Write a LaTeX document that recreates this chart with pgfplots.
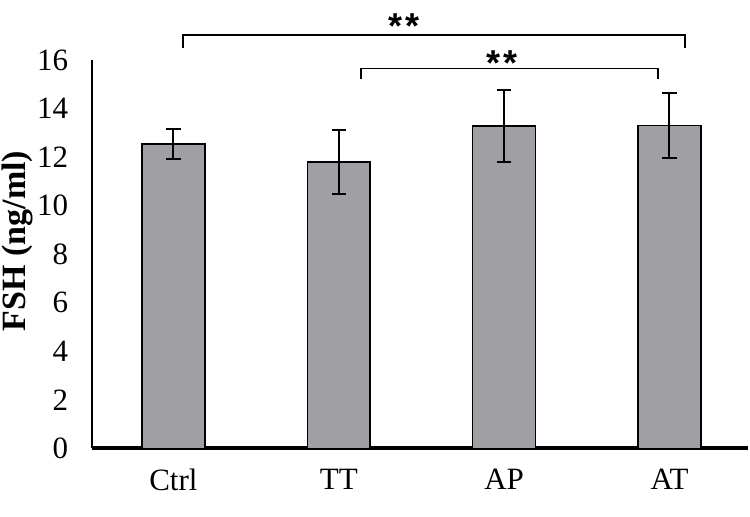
\documentclass[border=0pt]{standalone}
\usepackage{fontspec}
\setmainfont{Liberation Serif}
\setsansfont{Liberation Sans}
\usepackage{pgfplots}
\pgfplotsset{compat=1.18}
\definecolor{barfill}{RGB}{160,160,164}
\begin{document}
\begin{tikzpicture}
\begin{axis}[
  scale only axis,
  width=328pt, height=194pt,
  xmin=-0.493, xmax=3.475,
  ymin=0, ymax=16,
  ytick={0,2,...,16},
  xtick={0,1,2,3},
  xticklabels={Ctrl,TT,AP,AT},
  axis x line=bottom, axis y line=left,
  axis line style={-},
  x axis line style={line width=2pt},
  y axis line style={line width=0.7pt},
  major tick length=0pt,
  /pgf/number format/assume math mode=true,
  tick label style={font=\fontsize{15.5}{17}\selectfont},
  yticklabel style={xshift=-8.3pt},
  xticklabel style={yshift=-7pt},
  ylabel={\textbf{FSH (ng/ml)}},
  ylabel style={font=\fontsize{17}{19}\selectfont, at={(axis description cs:-0.113,0.534)}, anchor=center},
  clip=false,
  ybar, bar width=0.38,
]
\addplot[draw=black, line width=0.75pt, fill=barfill,
  error bars/.cd, y dir=both, y explicit,
  error bar style={line width=1pt, black},
  error mark options={rotate=90, mark size=3.6pt, line width=1pt, black}]
  coordinates {
    (0,12.54) +- (0,0.63)
    (1,11.81) +- (0,1.33)
    (2,13.28) +- (0,1.48)
    (3,13.31) +- (0,1.35)
  };
% significance brackets
\draw[line width=0.8pt] (axis cs:0.057,16.49) -- (axis cs:0.057,17.03) -- (axis cs:3.094,17.03) -- (axis cs:3.094,16.49);
\draw[line width=0.8pt] (axis cs:1.134,15.22) -- (axis cs:1.134,15.66) -- (axis cs:2.931,15.66) -- (axis cs:2.931,15.22);
\node[anchor=north, inner sep=0pt, font=\sffamily\bfseries\fontsize{18}{20}\selectfont] at (axis cs:1.397,17.94) {*\kern1.5pt*};
\node[anchor=north, inner sep=0pt, font=\sffamily\bfseries\fontsize{18}{20}\selectfont] at (axis cs:1.990,16.41) {*\kern1.5pt*};
\coordinate (bbl) at (rel axis cs:-0.140,-0.175);
\coordinate (btr) at (rel axis cs:1.003,1.155);
\end{axis}
\pgfresetboundingbox
\path (bbl) rectangle (btr);
\end{tikzpicture}
\end{document}
